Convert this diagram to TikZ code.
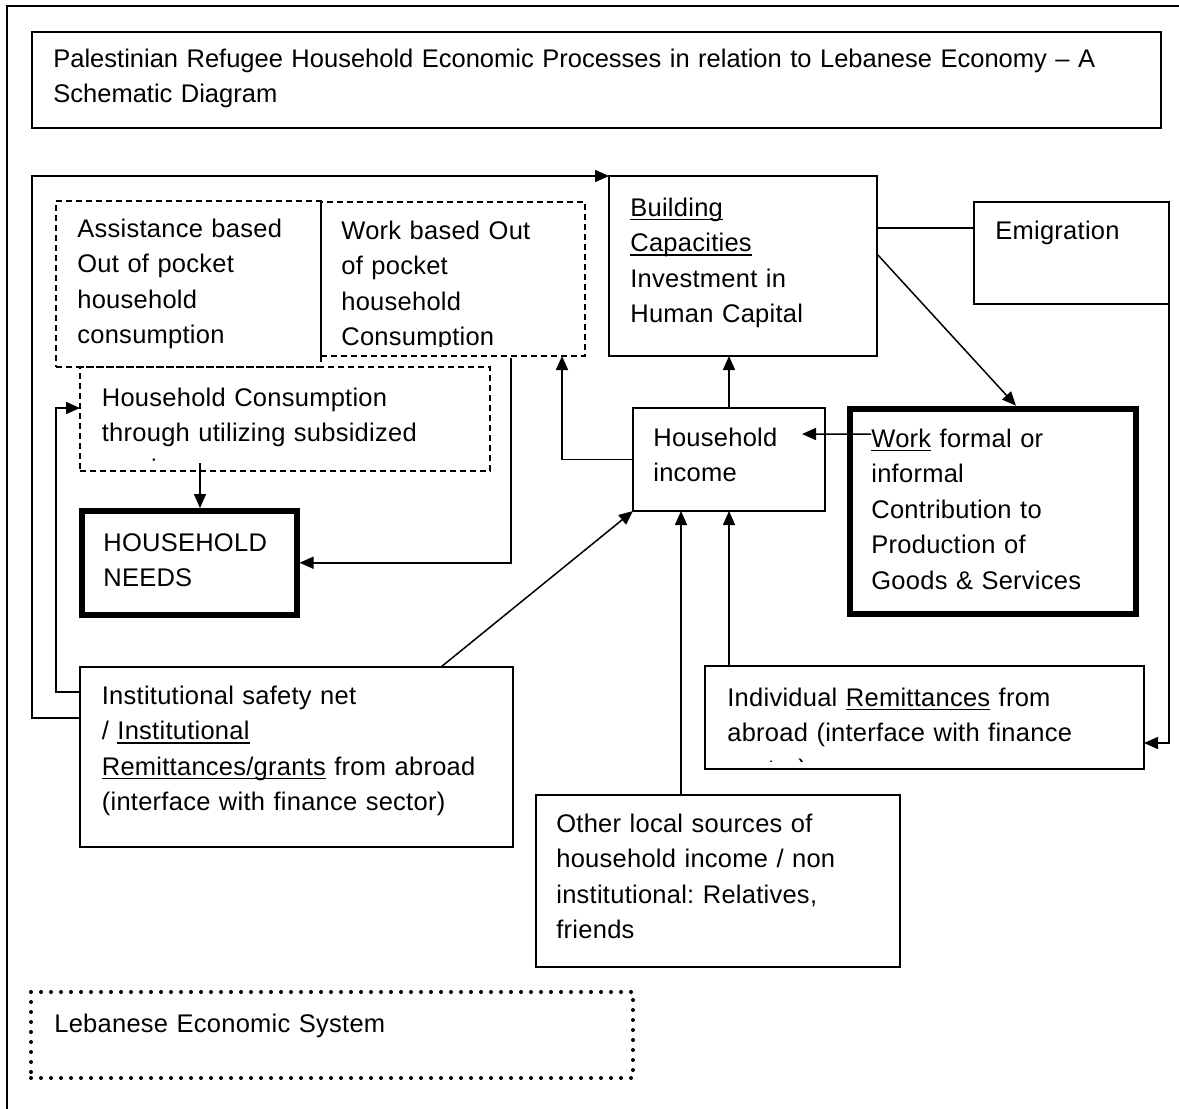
\documentclass[tikz,border=0pt]{standalone}
\usepackage{fontspec}
\setmainfont[LetterSpace=1]{Liberation Sans}
\newfontfamily\titlefont{Liberation Sans}
\usetikzlibrary{arrows.meta,calc,fit}
\frenchspacing
\newsavebox\myulbox
\newcommand\myul[1]{\leavevmode\sbox\myulbox{#1}\rlap{\rule[-2pt]{\wd\myulbox}{0.65pt}}\usebox\myulbox}
\begin{document}
\begin{tikzpicture}[x=0.5pt,y=-0.5pt,
  box/.style={draw, line width=0.75pt, inner sep=0pt, outer sep=0pt, rectangle},
  dbox/.style={box, dash pattern=on 3pt off 2pt},
  tbox/.style={draw, line width=3pt, inner sep=0pt, rectangle},
  lbox/.style={draw, line width=2pt, dash pattern=on 0pt off 5pt, line cap=round, inner sep=0pt, rectangle},
  txt/.style={anchor=base west, inner sep=0pt, text width=30cm, align=left, font=\fontsize{12.75pt}{17.75pt}\selectfont},
  conn/.style={line width=0.75pt},
  arr/.style={conn, -{Triangle[length=7pt,width=6pt]}},
]
\useasboundingbox (0,0) rectangle (1179,1109);
% outer frame
\draw[conn] (1179,6) -- (7,6) -- (7,1109);

% boxes
\node[box, fit={(32,32) (1161,128)}] (title) {};
\node[dbox, fit={(56,201) (321,367)}] (asst) {};
\node[dbox, fit={(321,202) (585,356)}] (wob) {};
\node[dbox, fit={(80,367) (490,471)}] (hcons) {};
\node[tbox, fit={(81.5,511) (296.5,614.5)}] (needs) {};
\node[box, fit={(609,176) (877,356)}] (bld) {};
\node[box, fit={(974,202) (1169,304)}] (emig) {};
\node[box, fit={(633,408) (825,511)}] (inc) {};
\node[tbox, fit={(849.5,408.7) (1136,613.7)}] (work) {};
\node[box, fit={(80,667) (513,847)}] (inst) {};
\node[box, fit={(705,666) (1144,769)}] (indiv) {};
\node[box, fit={(536,795) (900,967)}] (other) {};
\node[lbox, fit={(31,992) (633,1078)}] (leb) {};

% texts
\node[txt, font=\fontsize{12.75pt}{17.75pt}\titlefont] (titleT) at (53,67) {Palestinian Refugee Household Economic Processes in relation to Lebanese Economy – A\\Schematic Diagram};
\node[txt] (asstT) at (77,237) {Assistance based\\Out of pocket\\household\\consumption};
\begin{scope}
\clip (wob.north west) rectangle ($(wob.south east)+(0,-10)$);
\node[txt] (wobT) at (341,239) {Work based Out\\of pocket\\household\\Consumption};
\end{scope}
\begin{scope}
\clip (hcons.north west) rectangle ($(hcons.south east)+(0,-9)$);
\node[txt] (hconsT) at (101.5,406) {Household Consumption\\through utilizing subsidized\\services};
\end{scope}
\node[txt] (needsT) at (103,551) {HOUSEHOLD\\NEEDS};
\node[txt] (bldT) at (630,216) {\myul{Building}\\\myul{Capacities}\\Investment in\\Human Capital};
\node[txt] (emigT) at (995,239) {Emigration};
\node[txt] (incT) at (653,446) {Household\\income};
\node[txt] (workT) at (871,447) {\myul{Work} formal or\\informal\\Contribution to\\Production of\\Goods \& Services};
\node[txt] (instT) at (101.5,704) {Institutional safety net\\/ \myul{Institutional}\\\myul{Remittances/grants} from abroad\\(interface with finance sector)};
\begin{scope}
\clip (indiv.north west) rectangle ($(indiv.south east)+(0,-8)$);
\node[txt] (indivT) at (727,706) {Individual \myul{Remittances} from\\abroad (interface with finance\\sector)};
\end{scope}
\node[txt] (otherT) at (556,832) {Other local sources of\\household income / non\\institutional: Relatives,\\friends};
\node[txt] (lebT) at (54,1032) {Lebanese Economic System};

% connectors
\draw[arr] ($(inst.north west)+(0,51)$) -- ++(-48,0) |- (bld.north west);
\draw[arr] ($(inst.north west)+(0,25)$) -- ++(-24,0) |- ($(hcons.north west)+(0,41)$);
\draw[arr] ($(hcons.south west)+(120,-8)$) -- ($(needs.north west)+(121.5,0)$);
\draw[arr] ($(wob.south west)+(190,2)$) |- (needs.east);
\draw[arr] (inc.west) -| ($(wob.south west)+(241,0)$);
\draw[arr] (inc.north) -- (inc.north |- bld.south);
\draw[conn] ($(bld.north east)+(0,52)$) -- ($(emig.north west)+(0,26)$);
\draw[arr] ($(bld.north east)+(0,78)$) -- ($(work.north west)+(169.5,0)$);
\draw[arr] ($(work.north west)+(24.5,28.3)$) -- ($(inc.north west)+(169,26)$);
\draw[arr] (emig.south east) |- ($(indiv.north east)+(0,77)$);
\draw[arr] ($(inst.north west)+(361,0)$) -- (inc.south west);
\draw[arr] ($(other.north west)+(145,0)$) -- ($(inc.south west)+(48,0)$);
\draw[arr] (inc.south |- indiv.north) -- (inc.south);
\end{tikzpicture}
\end{document}
